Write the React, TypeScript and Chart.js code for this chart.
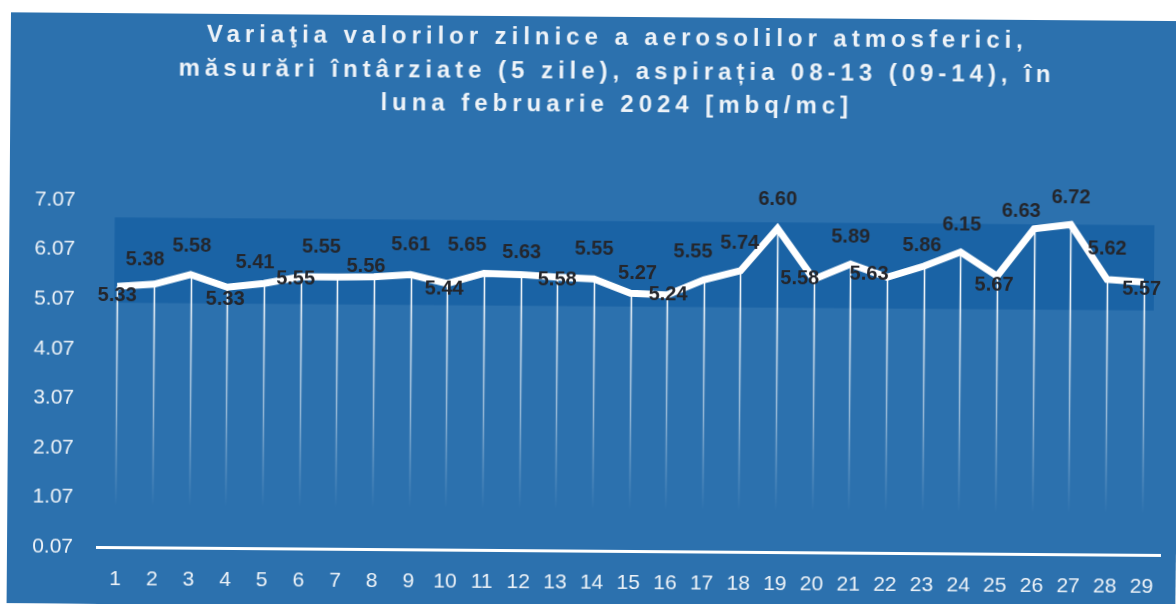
import React, { useEffect, useRef } from 'react';
import { Chart, registerables } from 'chart.js';

Chart.register(...registerables);

// ---- data ----
const days = ['1','2','3','4','5','6','7','8','9','10','11','12','13','14','15','16','17','18','19','20','21','22','23','24','25','26','27','28','29'];
const values = [5.33, 5.38, 5.58, 5.33, 5.41, 5.55, 5.55, 5.56, 5.61, 5.44, 5.65, 5.63, 5.58, 5.55, 5.27, 5.24, 5.55, 5.74, 6.60, 5.58, 5.89, 5.63, 5.86, 6.15, 5.67, 6.63, 6.72, 5.62, 5.57];
const yTicks = [0.07, 1.07, 2.07, 3.07, 4.07, 5.07, 6.07, 7.07];
const titleLines = [
  'Variaţia valorilor zilnice a aerosolilor atmosferici,',
  'măsurări întârziate (5 zile), aspirația 08-13 (09-14), în',
  'luna februarie 2024 [mbq/mc]',
];
// value range of the darker highlight band
const bandRange = [5.0, 6.72];

// ---- styling ----
// label nudges [dx, dy] in px relative to each point
const labelNudges: [number, number][] = [
  [0, 9], [-9, -24], [1, -28], [-2, 12], [-9, -21], [-5, 2], [-16, -30], [-8, -10], [0, -30], [-3, 6],
  [-17, -28], [1, -22], [0, 3], [0, -30], [7, -20], [1, 0], [-11, -28], [-1, -27], [0, -29], [-14, 0],
  [0, -27], [-18, -3], [-2, -20], [1, -27], [-3, 9], [-13, -17], [0, -27], [0, -30], [-2, 7],
];
const PANEL = '#2c71ae';
const BAND = '#1a63a5';
const TEXT_LIGHT = '#eef3f8';
const FONT = '"Liberation Sans", Arial, sans-serif';

const bgPlugin = {
  id: 'bgPanel',
  beforeDraw(chart: any) {
    const { ctx, width, height } = chart;
    ctx.save();
    ctx.fillStyle = '#ffffff';
    ctx.fillRect(0, 0, width, height);
    ctx.fillStyle = PANEL;
    ctx.fillRect(7, 13, width - 7, height - 13);
    // title
    ctx.fillStyle = TEXT_LIGHT;
    ctx.font = `bold 24px ${FONT}`;
    ctx.textAlign = 'center';
    ctx.textBaseline = 'alphabetic';
    ctx.letterSpacing = '0px';
    const w0 = ctx.measureText(titleLines[0]).width;
    const sp = Math.max(0, (816 - w0) / (titleLines[0].length - 1));
    ctx.letterSpacing = `${sp.toFixed(2)}px`;
    titleLines.forEach((t, i) => {
      ctx.fillText(t, 611 + sp / 2, 41 + i * 33.5);
    });
    ctx.restore();
  },
};

const bandPlugin = {
  id: 'bandDrop',
  beforeDatasetsDraw(chart: any) {
    const { ctx, chartArea, scales } = chart;
    const y = scales.y;
    const meta = chart.getDatasetMeta(0);
    ctx.save();
    // band
    const x0 = meta.data[0].x - 3;
    const yTop = y.getPixelForValue(bandRange[1]);
    const yBot = y.getPixelForValue(bandRange[0]);
    ctx.fillStyle = BAND;
    ctx.fillRect(x0, yTop, chartArea.right - 8 - x0, yBot - yTop);
    // drop lines
    const g = ctx.createLinearGradient(0, y.getPixelForValue(5.0), 0, y.getPixelForValue(0.9));
    g.addColorStop(0, 'rgba(255,255,255,0.95)');
    g.addColorStop(0.55, 'rgba(255,255,255,0.45)');
    g.addColorStop(1, 'rgba(255,255,255,0)');
    ctx.strokeStyle = g;
    ctx.lineWidth = 1.6;
    meta.data.forEach((p: any) => {
      ctx.beginPath();
      ctx.moveTo(Math.round(p.x) + 0.5, p.y);
      ctx.lineTo(Math.round(p.x) + 0.5, y.getPixelForValue(0.9));
      ctx.stroke();
    });
    ctx.restore();
  },
  afterDatasetsDraw(chart: any) {
    const { ctx } = chart;
    const meta = chart.getDatasetMeta(0);
    ctx.save();
    ctx.font = `bold 20px ${FONT}`;
    ctx.fillStyle = '#24262c';
    ctx.textAlign = 'center';
    ctx.textBaseline = 'middle';
    meta.data.forEach((p: any, i: number) => {
      const [dx, dy] = labelNudges[i] || [0, -20];
      ctx.fillText(values[i].toFixed(2), p.x + dx, p.y + dy);
    });
    ctx.restore();
  },
};

export default function App() {
  const ref = useRef<HTMLCanvasElement>(null);
  useEffect(() => {
    if (!ref.current) return;
    const chart = new Chart(ref.current, {
      type: 'line',
      data: {
        labels: days,
        datasets: [{
          data: values,
          borderColor: '#ffffff',
          borderWidth: 7,
          borderJoinStyle: 'miter',
          pointRadius: 0,
          tension: 0,
          fill: false,
        }],
      },
      options: {
        responsive: false,
        animation: false,
        devicePixelRatio: 1,
        layout: { padding: { left: 0, right: 16, top: 200, bottom: 0 } },
        plugins: { legend: { display: false }, tooltip: { enabled: false }, title: { display: false } },
        scales: {
          x: {
            offset: true,
            grid: { display: false, drawTicks: false },
            border: { display: true, color: '#ffffff', width: 3 },
            ticks: { color: TEXT_LIGHT, font: { family: FONT, size: 21 }, padding: 20, maxRotation: 0, autoSkip: false },
            afterFit(s: any) { s.height = 57; },
          },
          y: {
            min: 0.07,
            max: 7.07,
            grid: { display: false, drawTicks: false },
            border: { display: false },
            afterBuildTicks(s: any) { s.ticks = yTicks.map((v) => ({ value: v })); },
            ticks: {
              color: TEXT_LIGHT,
              font: { family: FONT, size: 21 },
              padding: 24,
              callback: (v: any) => Number(v).toFixed(2),
            },
            afterFit(s: any) { s.width = 97; },
          },
        },
      },
      plugins: [bgPlugin, bandPlugin],
    });
    return () => chart.destroy();
  }, []);
  return (
    <div style={{ position: 'fixed', left: 0, top: 0, width: 1176, height: 604, background: '#ffffff', overflow: 'hidden' }}>
      <canvas
        ref={ref}
        width={1176}
        height={604}
        style={{ display: 'block', width: 1176, height: 604, transform: 'rotate(0.43deg)', transformOrigin: '100px 546px' }}
      />
    </div>
  );
}
